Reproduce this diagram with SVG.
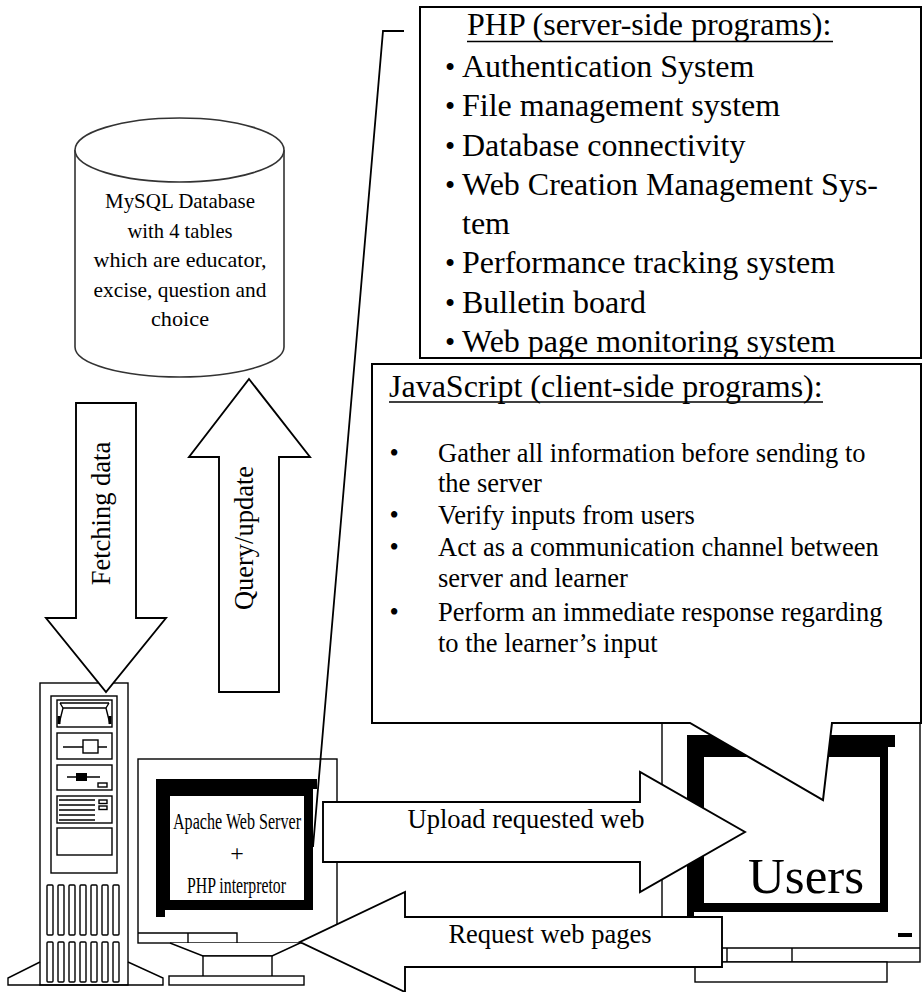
<svg xmlns="http://www.w3.org/2000/svg" width="923" height="992" viewBox="0 0 923 992">
<defs>
<style>
.ln{fill:none;stroke:#000;stroke-width:1.4}
.wb{fill:#fff;stroke:#000;stroke-width:1.4}
.ar{fill:#fff;stroke:#000;stroke-width:1.9;stroke-linejoin:miter}
.bx{fill:#fff;stroke:#000;stroke-width:2}
.cyl{fill:#fff;stroke:#333;stroke-width:1.6}
.blk{fill:#000}
.serif{font-family:"Liberation Serif","Times New Roman",serif;fill:#000}
.db{font-size:22px;text-anchor:middle}
.lbl{font-size:26.5px}
.mid{text-anchor:middle}
.php{font-size:32px}
.js{font-size:26.5px}
.scr{font-size:24px}
.ul{stroke:#000;stroke-width:1.6}
</style>
<clipPath id="phpClip"><rect x="421" y="8" width="499" height="349"/></clipPath>
</defs>
<rect width="923" height="992" fill="#fff"/>

<!-- MySQL database cylinder -->
<g id="database">
<path class="cyl" d="M75,150 V347 A104.5,30 0 0 0 284,347 V150"/>
<ellipse class="cyl" cx="179.5" cy="150" rx="104.5" ry="32"/>
<g class="serif db">
<text x="180" y="208" textLength="150" lengthAdjust="spacingAndGlyphs">MySQL Database</text>
<text x="180" y="238" textLength="105" lengthAdjust="spacingAndGlyphs">with 4 tables</text>
<text x="180" y="267" textLength="173" lengthAdjust="spacingAndGlyphs">which are educator,</text>
<text x="180" y="297" textLength="173" lengthAdjust="spacingAndGlyphs">excise, question and</text>
<text x="180" y="326" textLength="58" lengthAdjust="spacingAndGlyphs">choice</text>
</g>
</g>

<!-- Server tower -->
<g id="server-tower">
<rect class="wb" x="40" y="683" width="88" height="302"/>
<path class="ln" d="M40,962 L8,978 V985 H163 V978 L128,962"/>
<rect class="ln" x="51" y="696" width="66" height="177"/>
<!-- bay 1: tape slot -->
<rect class="ln" x="57" y="700" width="55" height="27"/>
<path class="ln" stroke-width="1.1" d="M60,703 H109 M63,708 H106 M60,703 L63,708 L59,724 M109,703 L106,708 L110,724"/>
<rect class="blk" x="57.5" y="716" width="3" height="8"/>
<rect class="blk" x="108.5" y="716" width="3" height="8"/>
<!-- bay 2: floppy -->
<rect class="ln" x="57" y="733" width="55" height="26"/>
<path class="ln" d="M63,747 H107"/>
<rect class="wb" x="83" y="740" width="15" height="13"/>
<!-- bay 3: drive with button -->
<rect class="ln" x="57" y="765" width="55" height="25"/>
<path class="ln" d="M67,777 H100"/>
<rect class="blk" x="76" y="773" width="11" height="8"/>
<rect class="ln" x="98" y="783" width="9" height="4"/>
<!-- bay 4: vented panel -->
<rect class="ln" x="57" y="796" width="55" height="27"/>
<path class="ln" stroke-width="1.1" d="M59,800 H95 M59,805 H95 M59,810 H95 M59,815 H95"/>
<path class="ln" stroke-width="2.2" d="M59,820 H95"/>
<rect class="ln" stroke-width="1.1" x="99" y="800" width="8" height="3.5"/>
<rect class="ln" stroke-width="1.1" x="99" y="806" width="8" height="3.5"/>
<!-- bay 5: blank -->
<rect class="ln" x="57" y="828" width="55" height="27"/>
<!-- vents -->
<g class="ln">
<rect x="47" y="885" width="6" height="50" rx="1"/>
<rect x="58" y="885" width="6" height="50" rx="1"/>
<rect x="69" y="885" width="6" height="50" rx="1"/>
<rect x="80" y="885" width="6" height="50" rx="1"/>
<rect x="91" y="885" width="6" height="50" rx="1"/>
<rect x="102" y="885" width="6" height="50" rx="1"/>
<rect x="113" y="885" width="6" height="50" rx="1"/>
<rect x="47" y="942" width="6" height="40" rx="1"/>
<rect x="58" y="942" width="6" height="40" rx="1"/>
<rect x="69" y="942" width="6" height="40" rx="1"/>
<rect x="80" y="942" width="6" height="40" rx="1"/>
<rect x="91" y="942" width="6" height="40" rx="1"/>
<rect x="102" y="942" width="6" height="40" rx="1"/>
<rect x="113" y="942" width="6" height="40" rx="1"/>
</g>
</g>

<!-- Web server monitor -->
<g id="web-server-monitor">
<rect class="wb" x="138" y="759" width="199" height="184"/>
<path class="ln" d="M138,933 H237 V943 M188,933 V943"/>
<path class="wb" d="M170,943 L203,956 H272 L300,943"/>
<rect class="wb" x="203" y="956" width="69" height="21"/>
<rect class="wb" x="169" y="976" width="135" height="9"/>
<path class="blk" d="M156,779 H317 V789 H313 V910 H165 V917 H156 Z"/>
<rect fill="#fff" x="170" y="796" width="134" height="104"/>
<g class="serif scr">
<text x="173" y="829" textLength="128" lengthAdjust="spacingAndGlyphs">Apache Web Server</text>
<text x="237" y="861" class="mid">+</text>
<text x="187" y="893" textLength="99" lengthAdjust="spacingAndGlyphs">PHP interpretor</text>
</g>
</g>

<!-- User monitor -->
<g id="user-monitor">
<rect class="wb" x="662" y="723" width="258" height="239"/>
<path class="ln" d="M662,948 H920 M727,948 V962 M792,948 V962"/>
<rect class="wb" x="695" y="962" width="192" height="20"/>
<path class="blk" d="M687,735 H895 V747 H888 V912 H694 V917 H687 Z"/>
<rect fill="#fff" x="704" y="757" width="176" height="146"/>
<rect class="blk" x="898" y="933" width="14" height="4"/>
<text class="serif" x="748" y="893" font-size="51">Users</text>
</g>

<!-- Block arrows and callout leader -->
<g id="connectors">
<polygon class="ar" points="76,403 136,403 136,618 166,618 106,692 46,618 76,618"/>
<polygon class="ar" points="249,379 310,457 279,457 279,692 219,692 219,457 189,457"/>
<polygon class="ar" points="323,802 640,802 640,772 745,832 640,892 640,862 323,862"/>
<polygon class="ar" points="722,917 405,917 405,892 300,942 405,992 405,967 722,967"/>
<polyline fill="none" stroke="#000" stroke-width="1.8" points="404,31 383,31 313,847"/>
<g class="serif lbl mid">
<text transform="translate(110,513.5) rotate(-90)">Fetching data</text>
<text transform="translate(253,538) rotate(-90)">Query/update</text>
<text x="526" y="828">Upload requested web</text>
<text x="550" y="943">Request web pages</text>
</g>
</g>

<!-- Server-side callout -->
<g id="php-callout">
<rect class="bx" x="420" y="7" width="501" height="351"/>
<g clip-path="url(#phpClip)" class="serif php">
<text x="467" y="35">PHP (server-side programs):</text>
<line class="ul" x1="467" y1="41.5" x2="833" y2="41.5"/>
<text y="77"><tspan x="445" font-size="29">•</tspan><tspan x="462">Authentication System</tspan></text>
<text y="116"><tspan x="445" font-size="29">•</tspan><tspan x="462">File management system</tspan></text>
<text y="156"><tspan x="445" font-size="29">•</tspan><tspan x="462">Database connectivity</tspan></text>
<text y="195"><tspan x="445" font-size="29">•</tspan><tspan x="462">Web Creation Management Sys-</tspan></text>
<text x="462" y="234">tem</text>
<text y="273"><tspan x="445" font-size="29">•</tspan><tspan x="462">Performance tracking system</tspan></text>
<text y="313"><tspan x="445" font-size="29">•</tspan><tspan x="462">Bulletin board</tspan></text>
<text y="352"><tspan x="445" font-size="29">•</tspan><tspan x="462">Web page monitoring system</tspan></text>
</g>
</g>

<!-- Client-side callout -->
<g id="js-callout">
<path class="bx" d="M372,364 H921 V723 H832 L823,800 L690,723 H372 Z"/>
<text class="serif php" x="389" y="397">JavaScript (client-side programs):</text>
<line class="ul" x1="389" y1="402" x2="823" y2="402"/>
<g class="serif js">
<text y="462"><tspan x="389.5">•</tspan><tspan x="438">Gather all information before sending to</tspan></text>
<text x="438" y="492">the server</text>
<text y="524"><tspan x="389.5">•</tspan><tspan x="438">Verify inputs from users</tspan></text>
<text y="556"><tspan x="389.5">•</tspan><tspan x="438">Act as a communication channel between</tspan></text>
<text x="438" y="587">server and learner</text>
<text y="621"><tspan x="389.5">•</tspan><tspan x="438">Perform an immediate response regarding</tspan></text>
<text x="438" y="652">to the learner’s input</text>
</g>
</g>
</svg>
